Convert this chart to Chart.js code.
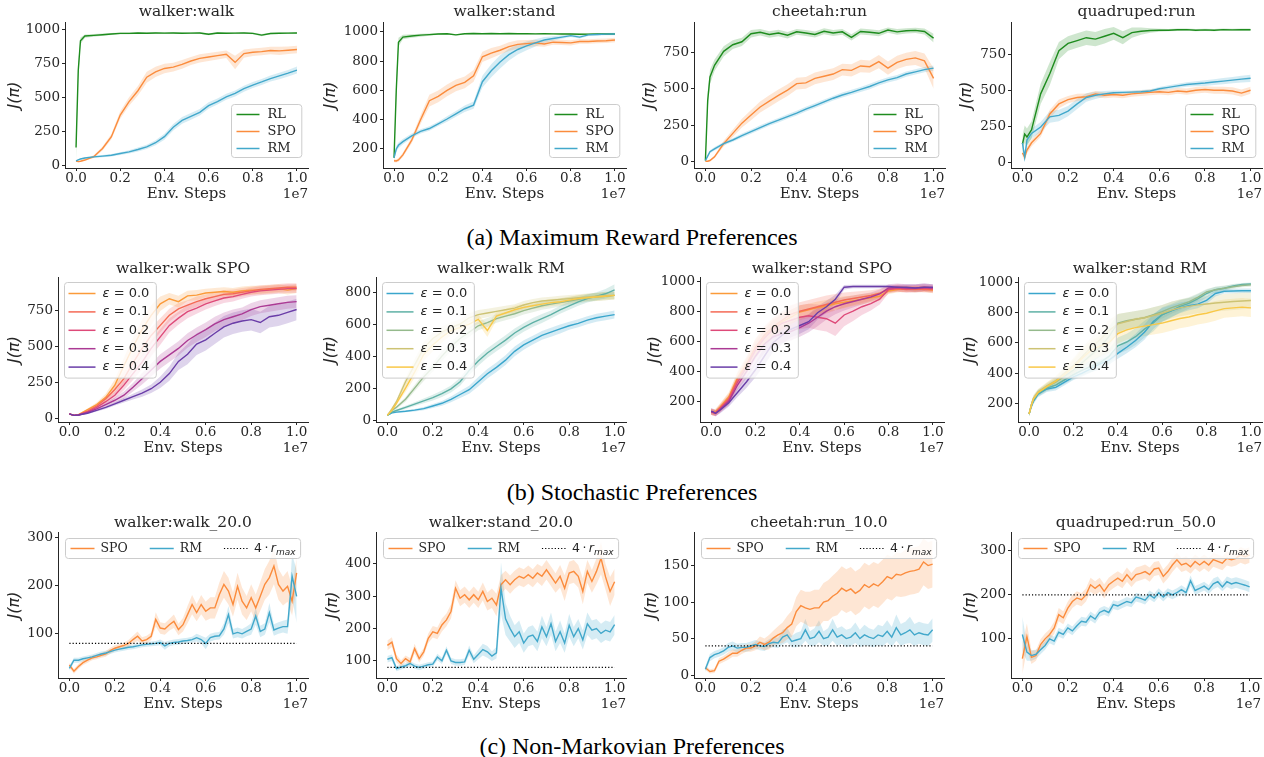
<!DOCTYPE html>
<html>
<head>
<meta charset="utf-8">
<script src="https://cdn.jsdelivr.net/npm/chart.js@4.4.1/dist/chart.umd.min.js"></script>
<style>
  body { margin: 0; background: #fff; width: 1264px; height: 757px; position: relative; overflow: hidden; }
  canvas { position: absolute; }
  .ttl { position: absolute; font: 15.5px 'DejaVu Serif'; color: #262626; line-height: 16px;
         transform: translate(-50%, -50%); white-space: nowrap; }
  .cap { position: absolute; left: 632px; font: 24px 'Liberation Serif'; color: #000; line-height: 24px;
         transform: translate(-50%, -50%); white-space: nowrap; }
</style>
</head>
<body>
<div class="cap" style="top:237px">(a) Maximum Reward Preferences</div>
<div class="cap" style="top:492px">(b) Stochastic Preferences</div>
<div class="cap" style="top:746px">(c) Non-Markovian Preferences</div>
<script>
// ── STEPS (units of 1e7) ─────────────────────────────────────
const STEPS_AB = [0, 0.01, 0.02, 0.04, 0.08, 0.12, 0.16, 0.2, 0.24, 0.28, 0.32, 0.36, 0.4, 0.44,
  0.48, 0.52, 0.56, 0.6, 0.64, 0.68, 0.72, 0.76, 0.8, 0.84, 0.88, 0.92, 0.96, 1.0];
const STEPS_C = [0, 0.02, 0.04, 0.06, 0.08, 0.1, 0.12, 0.14, 0.16, 0.18,
  0.2, 0.22, 0.24, 0.26, 0.28, 0.3, 0.32, 0.34, 0.36, 0.38,
  0.4, 0.42, 0.44, 0.46, 0.48, 0.5, 0.52, 0.54, 0.56, 0.58,
  0.6, 0.62, 0.64, 0.66, 0.68, 0.7, 0.72, 0.74, 0.76, 0.78,
  0.8, 0.82, 0.84, 0.86, 0.88, 0.9, 0.92, 0.94, 0.96, 0.98, 1.0];
const X_TICKS = [0, 0.2, 0.4, 0.6, 0.8, 1.0];

// ── (a) maximum reward ───────────────────────────────────────
const WALK_RL     = [130, 700, 920, 955,  960, 965, 970, 975,  975, 978, 976, 978,  977, 978, 976, 977,  978, 968, 977, 976,  977, 978, 975, 962,  974, 976, 977, 978];
const WALK_RL_SD  = [90, 60, 25, 12,  10, 8, 8, 7,  7, 6, 6, 6,  6, 6, 6, 6,  6, 8, 6, 6,  6, 6, 6, 8,  6, 6, 6, 6];
const WALK_SPO    = [30, 25, 28, 37,  62, 123, 210, 370,  470, 550, 650, 690,  715, 725, 745, 770,  790, 800, 810, 820,  760, 825, 835, 840,  848, 845, 850, 855];
const WALK_SPO_SD = [5, 5, 5, 6,  10, 15, 20, 28,  32, 35, 40, 38,  35, 33, 32, 30,  30, 30, 28, 28,  50, 30, 28, 28,  28, 30, 28, 28];
const WALK_RM     = [30, 38, 45, 52,  60, 66, 72, 85,  97, 115, 135, 165,  210, 280, 330, 360,  390, 440, 470, 505,  530, 565, 592, 615,  640, 660, 680, 703];
const WALK_RM_SD  = [5, 5, 6, 6,  8, 8, 9, 10,  12, 14, 16, 18,  22, 24, 25, 25,  24, 24, 22, 22,  22, 22, 22, 22,  22, 24, 24, 26];

const STAND_RL     = [140, 600, 930, 965,  972, 978, 982, 986,  988, 980, 988, 989,  988, 989, 988, 989,  988, 988, 987, 988,  987, 986, 986, 984,  985, 986, 986, 986];
const STAND_RL_SD  = [30, 80, 30, 15,  12, 10, 8, 6,  5, 5, 5, 5,  4, 4, 4, 4,  4, 4, 4, 4,  4, 4, 4, 5,  4, 4, 4, 4];
const STAND_SPO    = [120, 118, 125, 160,  260, 400, 530, 560,  600, 635, 655, 700,  830, 855, 875, 900,  915, 920, 925, 918,  930, 928, 925, 935,  935, 938, 940, 945];
const STAND_SPO_SD = [10, 10, 12, 15,  20, 30, 40, 40,  40, 40, 40, 40,  35, 35, 30, 30,  28, 25, 22, 20,  18, 18, 18, 16,  15, 15, 15, 15];
const STAND_RM     = [140, 200, 225, 250,  290, 320, 340, 372,  405, 440, 475, 500,  660, 735, 795, 845,  880, 905, 925, 945,  955, 965, 975, 965,  980, 983, 985, 986];
const STAND_RM_SD  = [15, 20, 20, 18,  15, 15, 15, 15,  18, 20, 22, 25,  40, 45, 45, 40,  35, 30, 25, 20,  15, 12, 10, 10,  8, 8, 8, 8];

const CHEETAH_RL     = [10, 420, 580, 660,  755, 800, 820, 875,  885, 870, 880, 865,  888, 880, 870, 892,  880, 888, 850, 890,  885, 878, 900, 888,  895, 898, 890, 845];
const CHEETAH_RL_SD  = [5, 60, 50, 40,  35, 30, 28, 25,  22, 22, 22, 22,  20, 20, 20, 20,  20, 20, 22, 20,  20, 20, 18, 20,  18, 18, 20, 30];
const CHEETAH_SPO    = [5, 5, 10, 35,  125, 195, 265, 320,  375, 415, 455, 490,  535, 540, 570, 585,  600, 630, 625, 655,  650, 685, 640, 680,  700, 710, 690, 570];
const CHEETAH_SPO_SD = [3, 3, 5, 10,  20, 25, 30, 35,  38, 40, 40, 40,  40, 40, 40, 40,  40, 40, 42, 42,  42, 45, 45, 45,  45, 48, 50, 70];
const CHEETAH_RM     = [10, 40, 70, 90,  125, 150, 180, 207,  235, 262, 285, 310,  333, 360, 385, 410,  435, 457, 475, 495,  515, 540, 560, 575,  600, 615, 630, 640];
const CHEETAH_RM_SD  = [5, 8, 10, 12,  12, 12, 14, 14,  15, 15, 15, 15,  16, 16, 16, 16,  16, 17, 17, 17,  18, 18, 18, 18,  18, 18, 18, 18];

const QUAD_RL     = [130, 200, 180, 230,  480, 620, 780, 830,  850, 870, 860, 880,  900, 870, 905, 915,  920, 922, 922, 925,  926, 922, 924, 922,  926, 924, 925, 925];
const QUAD_RL_SD  = [60, 60, 60, 60,  70, 80, 60, 50,  50, 50, 50, 50,  45, 45, 35, 25,  15, 10, 8, 8,  8, 8, 8, 8,  8, 8, 8, 8];
const QUAD_SPO    = [70, 40, 90, 140,  205, 340, 410, 440,  455, 460, 480, 470,  475, 470, 480, 485,  490, 495, 490, 500,  495, 505, 510, 505,  505, 500, 485, 505];
const QUAD_SPO_SD = [25, 25, 25, 25,  25, 30, 30, 25,  25, 22, 20, 20,  20, 20, 20, 20,  20, 20, 20, 20,  22, 22, 22, 25,  25, 25, 25, 25];
const QUAD_RM     = [140, 40, 160, 205,  250, 320, 330, 360,  410, 455, 470, 480,  488, 490, 492, 495,  500, 515, 525, 535,  545, 550, 555, 562,  568, 575, 582, 588];
const QUAD_RM_SD  = [35, 30, 35, 35,  35, 40, 40, 35,  35, 30, 25, 20,  15, 12, 12, 12,  12, 12, 14, 15,  16, 18, 20, 20,  22, 22, 24, 25];

// ── (b) stochastic, eps = 0.0 .. 0.4 ─────────────────────────
const WALK_SPO_E0 = [35, 30, 25, 30,  65, 100, 150, 235,  370, 500, 620, 720,  800, 835, 815, 855,  860, 875, 880, 885,  880, 890, 895, 895,  900, 905, 895, 905];
const WALK_SPO_E1 = [35, 30, 25, 28,  55, 90, 140, 205,  280, 390, 490, 580,  650, 720, 765, 790,  815, 835, 850, 865,  870, 880, 890, 900,  905, 910, 915, 915];
const WALK_SPO_E2 = [35, 30, 25, 28,  50, 80, 120, 165,  235, 315, 395, 490,  570, 650, 700, 745,  770, 800, 820, 840,  850, 865, 880, 890,  895, 900, 905, 905];
const WALK_SPO_E3 = [35, 30, 25, 28,  45, 70, 100, 130,  165, 220, 280, 340,  400, 445, 490, 545,  585, 620, 660, 690,  710, 730, 760, 780,  790, 800, 810, 815];
const WALK_SPO_E4 = [35, 30, 25, 28,  40, 60, 80, 105,  130, 155, 180, 210,  255, 315, 400, 450,  520, 550, 595, 640,  665, 680, 690, 670,  710, 720, 740, 760];
const WALK_SPO_E0_SD = [5, 5, 5, 5,  8, 15, 25, 40,  55, 65, 70, 70,  50, 40, 40, 35,  35, 30, 30, 30,  30, 30, 30, 30,  30, 30, 30, 30];
const WALK_SPO_E1_SD = [5, 5, 5, 5,  8, 12, 20, 30,  40, 50, 55, 55,  50, 45, 40, 35,  35, 30, 30, 30,  30, 30, 28, 28,  28, 28, 28, 28];
const WALK_SPO_E2_SD = [5, 5, 5, 5,  8, 12, 18, 25,  35, 45, 50, 55,  55, 50, 45, 45,  40, 40, 35, 35,  35, 30, 30, 30,  30, 30, 30, 30];
const WALK_SPO_E3_SD = [5, 5, 5, 5,  6, 10, 14, 20,  25, 30, 40, 45,  50, 50, 50, 50,  50, 50, 50, 50,  50, 45, 45, 45,  45, 45, 45, 45];
const WALK_SPO_E4_SD = [5, 5, 5, 5,  6, 8, 10, 12,  15, 20, 25, 30,  40, 50, 60, 70,  75, 75, 75, 75,  75, 75, 75, 75,  75, 75, 75, 75];

const WALK_RM_E0 = [30, 38, 45, 50,  55, 62, 72, 88,  105, 130, 160, 190,  240, 290, 330, 375,  430, 470, 500, 530,  550, 570, 590, 605,  625, 640, 650, 660];
const WALK_RM_E1 = [30, 40, 50, 60,  80, 100, 120, 140,  165, 195, 240, 310,  370, 420, 460, 500,  545, 580, 610, 635,  660, 690, 715, 740,  760, 775, 790, 815];
const WALK_RM_E2 = [30, 45, 60, 80,  130, 200, 270, 330,  400, 460, 510, 550,  590, 610, 635, 650,  665, 685, 700, 715,  725, 735, 745, 755,  765, 770, 775, 780];
const WALK_RM_E3 = [30, 50, 70, 115,  240, 345, 450, 510,  550, 580, 600, 640,  660, 670, 680, 690,  700, 720, 735, 745,  750, 755, 760, 765,  770, 775, 780, 780];
const WALK_RM_E4 = [30, 45, 60, 105,  200, 300, 410, 470,  520, 560, 580, 600,  630, 560, 650, 670,  690, 705, 715, 725,  735, 740, 750, 760,  765, 770, 775, 780];
const WALK_RM_E0_SD = [5, 5, 5, 5,  6, 8, 10, 12,  15, 18, 22, 25,  30, 30, 30, 30,  30, 30, 28, 28,  28, 28, 25, 25,  25, 25, 25, 25];
const WALK_RM_E1_SD = [5, 5, 6, 8,  10, 12, 15, 18,  20, 22, 25, 28,  30, 30, 30, 30,  28, 28, 28, 28,  25, 25, 25, 25,  25, 25, 30, 35];
const WALK_RM_E2_SD = [5, 6, 8, 10,  15, 20, 25, 28,  30, 30, 30, 30,  28, 28, 26, 26,  25, 25, 25, 25,  25, 25, 25, 25,  25, 25, 25, 25];
const WALK_RM_E3_SD = [5, 6, 8, 12,  25, 35, 40, 40,  35, 30, 30, 28,  28, 26, 25, 25,  25, 25, 22, 22,  22, 22, 22, 22,  22, 22, 22, 22];
const WALK_RM_E4_SD = [5, 6, 8, 12,  25, 35, 40, 40,  35, 30, 28, 28,  28, 40, 26, 25,  25, 22, 22, 22,  22, 22, 22, 22,  22, 25, 25, 25];

const STAND_SPO_E0 = [130, 125, 130, 160,  230, 360, 450, 560,  630, 690, 730, 760,  795, 810, 825, 835,  850, 860, 870, 880,  890, 900, 935, 945,  950, 945, 950, 940];
const STAND_SPO_E1 = [130, 125, 125, 155,  220, 350, 440, 560,  640, 700, 740, 780,  800, 815, 830, 845,  860, 875, 885, 895,  905, 920, 945, 950,  945, 950, 945, 945];
const STAND_SPO_E2 = [130, 125, 120, 150,  210, 330, 430, 540,  620, 680, 720, 740,  760, 770, 760, 750,  720, 775, 800, 830,  850, 880, 945, 955,  950, 950, 955, 950];
const STAND_SPO_E3 = [130, 125, 120, 145,  200, 310, 400, 500,  580, 630, 650, 665,  690, 720, 760, 800,  830, 850, 865, 880,  895, 915, 955, 960,  955, 955, 960, 955];
const STAND_SPO_E4 = [135, 130, 120, 140,  190, 260, 330, 410,  500, 590, 640, 680,  705, 730, 790, 830,  880, 960, 965, 965,  965, 965, 965, 960,  960, 955, 960, 960];
const STAND_SPO_E0_SD = [20, 20, 20, 25,  30, 40, 50, 55,  60, 60, 55, 50,  45, 40, 40, 40,  40, 40, 35, 35,  30, 30, 20, 20,  20, 20, 20, 20];
const STAND_SPO_E1_SD = [20, 20, 20, 25,  30, 40, 50, 55,  60, 60, 60, 60,  60, 60, 60, 60,  55, 50, 45, 40,  35, 30, 20, 20,  20, 20, 20, 20];
const STAND_SPO_E2_SD = [20, 20, 20, 25,  30, 40, 50, 55,  60, 60, 60, 70,  80, 80, 85, 85,  85, 75, 65, 55,  45, 35, 25, 25,  25, 25, 25, 25];
const STAND_SPO_E3_SD = [20, 20, 20, 22,  28, 35, 45, 55,  60, 60, 60, 60,  60, 60, 60, 55,  50, 45, 40, 35,  30, 30, 25, 25,  25, 25, 25, 25];
const STAND_SPO_E4_SD = [20, 20, 20, 22,  25, 30, 40, 50,  60, 60, 60, 55,  55, 50, 45, 40,  30, 15, 12, 12,  12, 12, 12, 15,  20, 25, 25, 20];

const STAND_RM_E0 = [130, 180, 215, 260,  295, 305, 340, 375,  400, 430, 460, 485,  530, 570, 615, 670,  740, 785, 810, 830,  845, 855, 880, 925,  940, 942, 943, 943];
const STAND_RM_E1 = [130, 185, 220, 265,  300, 320, 355, 390,  420, 445, 470, 510,  580, 605, 640, 690,  730, 785, 810, 840,  860, 890, 925, 950,  960, 975, 985, 988];
const STAND_RM_E2 = [130, 190, 230, 270,  310, 340, 380, 420,  470, 520, 570, 640,  730, 745, 755, 765,  785, 805, 830, 850,  870, 900, 935, 950,  960, 970, 978, 982];
const STAND_RM_E3 = [130, 190, 235, 275,  315, 350, 400, 450,  510, 570, 620, 680,  725, 740, 755, 765,  780, 795, 815, 830,  840, 850, 856, 862,  867, 872, 876, 879];
const STAND_RM_E4 = [130, 185, 230, 270,  310, 345, 390, 440,  500, 550, 580, 600,  660, 685, 700, 710,  720, 730, 745, 760,  770, 785, 795, 810,  825, 830, 835, 830];
const STAND_RM_E0_SD = [15, 20, 20, 20,  20, 20, 20, 20,  22, 25, 28, 30,  35, 40, 45, 50,  50, 45, 40, 35,  30, 28, 25, 20,  15, 15, 15, 15];
const STAND_RM_E1_SD = [15, 20, 20, 20,  20, 22, 25, 30,  35, 40, 45, 50,  55, 55, 55, 55,  55, 50, 45, 40,  35, 30, 25, 20,  15, 12, 10, 10];
const STAND_RM_E2_SD = [15, 20, 20, 20,  20, 25, 30, 40,  50, 55, 60, 65,  60, 55, 55, 55,  50, 45, 40, 35,  30, 25, 20, 20,  18, 15, 12, 12];
const STAND_RM_E3_SD = [15, 20, 20, 20,  25, 30, 40, 50,  60, 65, 70, 70,  65, 60, 55, 55,  55, 55, 55, 55,  55, 55, 55, 55,  55, 55, 55, 55];
const STAND_RM_E4_SD = [15, 20, 20, 20,  25, 30, 40, 50,  60, 65, 70, 70,  65, 65, 65, 65,  65, 65, 65, 65,  65, 65, 65, 65,  60, 60, 60, 60];

// ── (c) non-markovian ────────────────────────────────────────
const WALK20_SPO = [35, 22, 32, 40, 45, 50, 52, 55, 58, 65,  70, 73, 76, 80, 88, 95, 85, 88, 95, 130,
  112, 110, 119, 126, 109, 119, 140, 161, 144, 161,  147, 154, 154, 182, 203, 189, 161, 199, 168, 154,
  175, 154, 178, 203, 217, 241, 203, 189, 199, 168,  227];
const WALK20_SPO_SD = [5, 5, 5, 5, 5, 5, 5, 5, 6, 6,  6, 6, 6, 7, 8, 10, 8, 8, 8, 15,
  12, 12, 12, 14, 12, 14, 18, 20, 18, 20,  20, 22, 22, 25, 28, 28, 25, 28, 28, 25,
  28, 28, 30, 32, 35, 38, 32, 30, 32, 30,  30];
const WALK20_RM = [28, 45, 45, 48, 50, 52, 55, 58, 60, 63,  66, 68, 70, 72, 73, 75, 77, 78, 79, 80,
  82, 75, 80, 82, 83, 85, 86, 88, 92, 88,  80, 92, 95, 96, 110, 140, 100, 103, 100, 105,
  110, 137, 105, 110, 144, 108, 112, 115, 115, 220,  178];
const WALK20_RM_SD = [5, 5, 5, 5, 5, 5, 5, 5, 5, 5,  5, 5, 5, 5, 5, 5, 5, 5, 5, 5,
  6, 8, 6, 6, 6, 6, 6, 6, 8, 8,  12, 8, 8, 8, 12, 18, 10, 10, 10, 10,
  12, 18, 12, 12, 20, 12, 12, 12, 15, 45,  55];

const STAND20_SPO = [148, 158, 107, 92, 107, 97, 138, 107, 128, 170,  190, 185, 211, 227, 253, 325, 294, 305, 289, 305,
  289, 315, 284, 294, 273, 336, 351, 336, 351, 362,  356, 367, 356, 372, 362, 382, 362, 341, 362, 325,
  372, 377, 362, 315, 377, 346, 377, 418, 360, 315,  345];
const STAND20_SPO_SD = [15, 15, 12, 10, 10, 12, 15, 12, 12, 15,  18, 18, 20, 20, 22, 25, 25, 25, 25, 25,
  25, 28, 28, 30, 35, 30, 28, 28, 28, 28,  28, 28, 28, 28, 30, 30, 30, 30, 35, 40,
  35, 35, 35, 40, 35, 35, 40, 50, 40, 45,  40];
const STAND20_RM = [105, 110, 76, 81, 85, 92, 84, 80, 84, 88,  90, 112, 100, 133, 100, 95, 95, 97, 133, 105,
  120, 135, 128, 115, 125, 325, 230, 200, 175, 190,  155, 175, 180, 160, 205, 175, 215, 160, 190, 155,
  210, 175, 200, 165, 215, 195, 200, 185, 195, 190,  212];
const STAND20_RM_SD = [10, 10, 8, 8, 8, 8, 8, 8, 8, 8,  8, 10, 10, 12, 10, 10, 10, 10, 15, 12,
  15, 18, 18, 15, 18, 80, 50, 40, 35, 35,  30, 30, 30, 30, 35, 30, 35, 30, 35, 30,
  35, 30, 30, 30, 35, 30, 30, 30, 30, 30,  30];

const CHEETAH10_SPO = [10, 5, 6, 19, 22, 26, 30, 30, 34, 37,  37, 40, 45, 42, 45, 51, 55, 58, 65, 70,
  87, 95, 92, 90, 92, 92, 100, 102, 108, 112,  119, 115, 118, 112, 116, 124, 120, 125, 122, 128,
  135, 132, 138, 137, 140, 142, 143, 145, 155, 150,  152];
const CHEETAH10_SPO_SD = [3, 3, 3, 4, 4, 5, 5, 5, 5, 5,  5, 6, 8, 8, 10, 10, 12, 14, 16, 18,
  20, 22, 22, 24, 25, 25, 26, 28, 28, 30,  30, 30, 30, 30, 30, 30, 30, 30, 30, 30,
  30, 30, 30, 30, 32, 32, 32, 32, 32, 32,  32];
const CHEETAH10_RM = [8, 24, 28, 30, 33, 38, 40, 37, 38, 38,  40, 42, 40, 39, 43, 45, 44, 52, 55, 46,
  48, 50, 62, 50, 52, 60, 50, 52, 62, 52,  55, 50, 52, 58, 50, 55, 52, 50, 55, 53,
  60, 52, 65, 55, 58, 62, 55, 58, 56, 55,  62];
const CHEETAH10_RM_SD = [4, 5, 5, 5, 5, 6, 6, 6, 6, 6,  6, 6, 6, 6, 6, 7, 7, 10, 10, 8,
  10, 10, 15, 10, 12, 15, 10, 12, 15, 12,  12, 12, 12, 14, 12, 14, 12, 12, 14, 14,
  15, 14, 18, 15, 15, 18, 15, 15, 15, 15,  16];

const QUAD50_SPO = [55, 105, 58, 62, 87, 100, 110, 125, 155, 148,  170, 185, 193, 189, 200, 223, 215, 223, 208, 223,
  231, 238, 231, 246, 234, 246, 249, 253, 246, 259,  261, 242, 253, 268, 280, 268, 272, 264, 276, 268,
  276, 268, 280, 276, 272, 283, 280, 283, 291, 287,  291];
const QUAD50_SPO_SD = [35, 30, 15, 12, 12, 12, 12, 14, 15, 15,  15, 15, 15, 15, 15, 16, 16, 16, 16, 16,
  16, 16, 16, 16, 16, 16, 16, 16, 16, 16,  16, 16, 16, 16, 16, 16, 16, 16, 16, 16,
  16, 16, 16, 16, 16, 16, 16, 16, 18, 18,  18];
const QUAD50_RM = [110, 70, 62, 65, 75, 85, 100, 95, 115, 110,  125, 118, 130, 140, 138, 152, 145, 160, 165, 160,
  178, 175, 180, 185, 182, 195, 192, 188, 200, 193,  205, 195, 205, 200, 205, 212, 205, 232, 210, 215,
  220, 212, 225, 230, 218, 230, 225, 228, 225, 222,  218];
const QUAD50_RM_SD = [40, 20, 12, 10, 10, 10, 10, 10, 10, 10,  10, 10, 10, 10, 10, 10, 10, 10, 10, 10,
  10, 10, 10, 10, 10, 10, 10, 10, 10, 10,  10, 10, 10, 10, 10, 10, 10, 12, 10, 10,
  10, 10, 12, 12, 10, 12, 12, 12, 12, 12,  12];

// 4 * r_max reference levels for walker, stand, cheetah, quadruped
const R_MAX_LINE = [80, 80, 40, 200];
const EPS = ['0.0', '0.1', '0.2', '0.3', '0.4'];

// ── STYLE ────────────────────────────────────────────────────
const INK = '#262626';
const C_RL = '#1e8c1e', C_SPO = '#fb8c3d', C_RM = '#42a8cb';
const SPO_EPS_C = ['#fb9b3a', '#f56a55', '#de4a79', '#ab3a94', '#6a3da8'];
const RM_EPS_C = ['#3aa6cc', '#5fb1a6', '#95ba8c', '#cdc374', '#f9c847'];
const TICK_FONT = { family: 'DejaVu Serif', size: 13.5, lineHeight: 1 };
const LABEL_FONT = { family: 'DejaVu Serif', size: 15, lineHeight: 1.2 };

function rgba(hex, a) {
  const n = parseInt(hex.slice(1), 16);
  return `rgba(${n >> 16},${(n >> 8) & 255},${n & 255},${a})`;
}

const plain = t => [{ t }];
const epsParts = e => [{ t: 'ε', it: 1, math: 1 }, { t: ' = ' + e, math: 1 }];
const S = (parts, v, sd, c) => ({ parts, v, sd, c });

const PANELS = [
  { title: 'walker:walk', ty: 11, box: [65, 22, 308, 168], ylx: 15, y: [-22, 1059], yt: [0, 250, 500, 750, 1000], x: STEPS_AB, legend: 'br',
    series: [S(plain('RL'), WALK_RL, WALK_RL_SD, C_RL), S(plain('SPO'), WALK_SPO, WALK_SPO_SD, C_SPO), S(plain('RM'), WALK_RM, WALK_RM_SD, C_RM)] },
  { title: 'walker:stand', ty: 11, box: [383, 22, 626, 168], ylx: 331, y: [70, 1068], yt: [200, 400, 600, 800, 1000], x: STEPS_AB, legend: 'br',
    series: [S(plain('RL'), STAND_RL, STAND_RL_SD, C_RL), S(plain('SPO'), STAND_SPO, STAND_SPO_SD, C_SPO), S(plain('RM'), STAND_RM, STAND_RM_SD, C_RM)] },
  { title: 'cheetah:run', ty: 11, box: [694, 22, 945, 168], ylx: 650, y: [-41, 955], yt: [0, 250, 500, 750], x: STEPS_AB, legend: 'br',
    series: [S(plain('RL'), CHEETAH_RL, CHEETAH_RL_SD, C_RL), S(plain('SPO'), CHEETAH_SPO, CHEETAH_SPO_SD, C_SPO), S(plain('RM'), CHEETAH_RM, CHEETAH_RM_SD, C_RM)] },
  { title: 'quadruped:run', ty: 11, box: [1011, 22, 1262, 168], ylx: 967, y: [-35, 979], yt: [0, 250, 500, 750], x: STEPS_AB, legend: 'br',
    series: [S(plain('RL'), QUAD_RL, QUAD_RL_SD, C_RL), S(plain('SPO'), QUAD_SPO, QUAD_SPO_SD, C_SPO), S(plain('RM'), QUAD_RM, QUAD_RM_SD, C_RM)] },

  { title: 'walker:walk SPO', ty: 268, box: [58, 277, 308, 422], ylx: 15, y: [-21, 986], yt: [0, 250, 500, 750], x: STEPS_AB, legend: 'tl',
    series: [WALK_SPO_E0, WALK_SPO_E1, WALK_SPO_E2, WALK_SPO_E3, WALK_SPO_E4].map((v, i) =>
      S(epsParts(EPS[i]), v, [WALK_SPO_E0_SD, WALK_SPO_E1_SD, WALK_SPO_E2_SD, WALK_SPO_E3_SD, WALK_SPO_E4_SD][i], SPO_EPS_C[i])) },
  { title: 'walker:walk RM', ty: 268, box: [376, 277, 626, 422], ylx: 331, y: [-12, 895], yt: [0, 200, 400, 600, 800], x: STEPS_AB, legend: 'tl',
    series: [WALK_RM_E0, WALK_RM_E1, WALK_RM_E2, WALK_RM_E3, WALK_RM_E4].map((v, i) =>
      S(epsParts(EPS[i]), v, [WALK_RM_E0_SD, WALK_RM_E1_SD, WALK_RM_E2_SD, WALK_RM_E3_SD, WALK_RM_E4_SD][i], RM_EPS_C[i])) },
  { title: 'walker:stand SPO', ty: 268, box: [700, 277, 944, 422], ylx: 655, y: [62, 1028], yt: [200, 400, 600, 800, 1000], x: STEPS_AB, legend: 'tl',
    series: [STAND_SPO_E0, STAND_SPO_E1, STAND_SPO_E2, STAND_SPO_E3, STAND_SPO_E4].map((v, i) =>
      S(epsParts(EPS[i]), v, [STAND_SPO_E0_SD, STAND_SPO_E1_SD, STAND_SPO_E2_SD, STAND_SPO_E3_SD, STAND_SPO_E4_SD][i], SPO_EPS_C[i])) },
  { title: 'walker:stand RM', ty: 268, box: [1018, 277, 1262, 422], ylx: 971, y: [77, 1034], yt: [200, 400, 600, 800, 1000], x: STEPS_AB, legend: 'tl',
    series: [STAND_RM_E0, STAND_RM_E1, STAND_RM_E2, STAND_RM_E3, STAND_RM_E4].map((v, i) =>
      S(epsParts(EPS[i]), v, [STAND_RM_E0_SD, STAND_RM_E1_SD, STAND_RM_E2_SD, STAND_RM_E3_SD, STAND_RM_E4_SD][i], RM_EPS_C[i])) },

  { title: 'walker:walk_20.0', ty: 522, box: [58, 532, 308, 678], ylx: 15, y: [8, 312], yt: [100, 200, 300], x: STEPS_C, legend: 'tc', thr: R_MAX_LINE[0],
    series: [S(plain('SPO'), WALK20_SPO, WALK20_SPO_SD, C_SPO), S(plain('RM'), WALK20_RM, WALK20_RM_SD, C_RM)] },
  { title: 'walker:stand_20.0', ty: 522, box: [376, 532, 626, 678], ylx: 333, y: [47, 499], yt: [100, 200, 300, 400], x: STEPS_C, legend: 'tc', thr: R_MAX_LINE[1],
    series: [S(plain('SPO'), STAND20_SPO, STAND20_SPO_SD, C_SPO), S(plain('RM'), STAND20_RM, STAND20_RM_SD, C_RM)] },
  { title: 'cheetah:run_10.0', ty: 522, box: [694, 532, 944, 678], ylx: 652, y: [-4, 196], yt: [0, 50, 100, 150], x: STEPS_C, legend: 'tc', thr: R_MAX_LINE[2],
    series: [S(plain('SPO'), CHEETAH10_SPO, CHEETAH10_SPO_SD, C_SPO), S(plain('RM'), CHEETAH10_RM, CHEETAH10_RM_SD, C_RM)] },
  { title: 'quadruped:run_50.0', ty: 522, box: [1011, 532, 1261, 678], ylx: 971, y: [11, 343], yt: [100, 200, 300], x: STEPS_C, legend: 'tc', thr: R_MAX_LINE[3],
    series: [S(plain('SPO'), QUAD50_SPO, QUAD50_SPO_SD, C_SPO), S(plain('RM'), QUAD50_RM, QUAD50_RM_SD, C_RM)] },
];

// ── LEGEND / OFFSET TEXT ─────────────────────────────────────
const LEGEND_STYLE = {
  br: { size: 13, sample: 23, pad: 5, gap: 8, rowH: 17, first: 10, last: 9, right: 6 },
  tl: { size: 13, sample: 27, pad: 4, gap: 7, rowH: 18.4, first: 11, last: 11, right: 7 },
  tc: { size: 12.5, sample: 24, pad: 5, gap: 6, colGap: 22, h: 20 },
};

function partFont(p, size) {
  const fam = p.math ? '"DejaVu Sans"' : '"DejaVu Serif"';
  return (p.it ? 'italic ' : '') + (p.sub ? Math.round(size * 0.72) : size) + 'px ' + fam;
}
function partsWidth(ctx, parts, size) {
  let w = 0;
  parts.forEach(p => { ctx.font = partFont(p, size); w += ctx.measureText(p.t).width; });
  return w;
}
function drawParts(ctx, parts, x, y, size) {
  parts.forEach(p => {
    ctx.font = partFont(p, size);
    ctx.fillText(p.t, x, p.sub ? y + size * 0.3 : y);
    x += ctx.measureText(p.t).width;
  });
}
function roundBox(ctx, x, y, w, h, r) {
  ctx.beginPath();
  ctx.moveTo(x + r, y); ctx.lineTo(x + w - r, y); ctx.arcTo(x + w, y, x + w, y + r, r);
  ctx.lineTo(x + w, y + h - r); ctx.arcTo(x + w, y + h, x + w - r, y + h, r);
  ctx.lineTo(x + r, y + h); ctx.arcTo(x, y + h, x, y + h - r, r);
  ctx.lineTo(x, y + r); ctx.arcTo(x, y, x + r, y, r);
  ctx.closePath();
}

function drawLegend(ctx, a, where, items) {
  const st = LEGEND_STYLE[where];
  const tw = items.map(it => partsWidth(ctx, it.parts, st.size));
  let bx, by, bw, bh;
  if (where === 'tc') {
    bw = st.pad * 2 + items.reduce((s, it, i) => s + st.sample + st.gap + tw[i], 0) + st.colGap * (items.length - 1);
    bh = st.h;
    bx = (a.left + a.right) / 2 - bw / 2;
    by = a.top + 6;
  } else {
    bw = st.pad + st.sample + st.gap + Math.max(...tw) + st.right;
    bh = st.first + st.rowH * (items.length - 1) + st.last;
    if (where === 'br') { bx = a.right - 7 - bw; by = a.bottom - 11 - bh; }
    else { bx = a.left + 6; by = a.top + 5; }
  }
  bx = Math.round(bx) + 0.5; by = Math.round(by) + 0.5;
  roundBox(ctx, bx, by, bw, bh, 3);
  ctx.fillStyle = 'rgba(255,255,255,0.8)';
  ctx.fill();
  ctx.strokeStyle = '#cccccc';
  ctx.lineWidth = 1;
  ctx.stroke();

  ctx.textAlign = 'left';
  ctx.textBaseline = 'middle';
  let cx = bx + st.pad;
  items.forEach((it, i) => {
    let x, y;
    if (where === 'tc') { x = cx; y = by + bh / 2; cx += st.sample + st.gap + tw[i] + st.colGap; }
    else { x = bx + st.pad; y = by + st.first + i * st.rowH; }
    ctx.strokeStyle = it.c;
    ctx.lineWidth = it.dash ? 1.2 : 1.5;
    ctx.setLineDash(it.dash || []);
    ctx.beginPath();
    ctx.moveTo(x, y); ctx.lineTo(x + st.sample, y);
    ctx.stroke();
    ctx.setLineDash([]);
    ctx.fillStyle = INK;
    drawParts(ctx, it.parts, x + st.sample + st.gap, y, st.size);
  });
}

const panelDeco = {
  id: 'panelDeco',
  afterDatasetsDraw(chart, args, o) {
    const { ctx, chartArea: a } = chart;
    ctx.save();
    drawLegend(ctx, a, o.where, o.items);
    ctx.font = '13.5px "DejaVu Serif"';
    ctx.fillStyle = INK;
    ctx.textAlign = 'right';
    ctx.textBaseline = 'middle';
    ctx.fillText('1e7', a.right, a.bottom + 26);
    ctx.restore();
  }
};

// ── BUILD ────────────────────────────────────────────────────
function makePanel(p) {
  const [l, t, r, b] = p.box;
  const cl = Math.round(p.ylx - 12), ct = t - 6;
  const cw = r - cl + 18, ch = b - ct + 36;
  const cv = document.createElement('canvas');
  cv.width = cw; cv.height = ch;
  cv.style.left = cl + 'px'; cv.style.top = ct + 'px';
  document.body.appendChild(cv);

  const ttl = document.createElement('div');
  ttl.className = 'ttl';
  ttl.textContent = p.title;
  ttl.style.left = ((l + r) / 2) + 'px';
  ttl.style.top = p.ty + 'px';
  document.body.appendChild(ttl);

  const pts = v => v.map((y, k) => ({ x: p.x[k], y }));
  const datasets = [];
  p.series.forEach(s => {
    datasets.push({ data: pts(s.v.map((y, k) => y + s.sd[k])), borderWidth: 0, borderColor: 'transparent',
      pointRadius: 0, fill: false, order: 50 });
    datasets.push({ data: pts(s.v.map((y, k) => y - s.sd[k])), borderWidth: 0, borderColor: 'transparent',
      pointRadius: 0, fill: '-1', backgroundColor: rgba(s.c, 0.22), order: 50 });
  });
  p.series.forEach((s, i) => {
    datasets.push({ data: pts(s.v), borderColor: s.c, borderWidth: 1.4, pointRadius: 0, fill: false, order: -i });
  });
  const items = p.series.map(s => ({ parts: s.parts, c: s.c }));
  if (p.thr != null) {
    datasets.push({ data: [{ x: 0, y: p.thr }, { x: 1, y: p.thr }], borderColor: '#000', borderWidth: 1.2,
      borderDash: [1.2, 2], pointRadius: 0, fill: false, order: -10 });
    items.push({ parts: [{ t: '4\u2009·\u2009', math: 1 }, { t: 'r', it: 1, math: 1 }, { t: 'max', it: 1, math: 1, sub: 1 }], c: '#000', dash: [1.2, 2] });
  }

  const axisCommon = {
    grid: { display: true, drawOnChartArea: false, drawTicks: true, tickLength: 3, tickWidth: 1, tickColor: INK },
    border: { display: true, color: INK, width: 1 },
  };

  new Chart(cv, {
    type: 'line',
    data: { datasets },
    options: {
      responsive: false, animation: false, devicePixelRatio: 1, events: [],
      layout: { padding: { left: 0, top: 6, right: 18, bottom: 0 } },
      elements: { line: { tension: 0 } },
      plugins: { legend: { display: false }, tooltip: { enabled: false }, panelDeco: { where: p.legend, items } },
      scales: {
        x: {
          type: 'linear', min: -0.05, max: 1.05, ...axisCommon,
          afterBuildTicks: s => { s.ticks = X_TICKS.map(value => ({ value })); },
          afterFit: s => { s.height = 36; s.paddingLeft = 0; s.paddingRight = 0; },
          ticks: { font: TICK_FONT, color: INK, padding: 1, maxRotation: 0, autoSkip: false, callback: v => v.toFixed(1) },
          title: { display: true, text: 'Env. Steps', font: LABEL_FONT, color: INK, padding: { top: 0, bottom: 1.2 } },
        },
        y: {
          type: 'linear', min: p.y[0], max: p.y[1], ...axisCommon,
          afterBuildTicks: s => { s.ticks = p.yt.map(value => ({ value })); },
          afterFit: s => { s.width = l - cl; s.paddingTop = 0; s.paddingBottom = 0; },
          ticks: { font: TICK_FONT, color: INK, padding: 2, autoSkip: false, callback: v => String(v) },
          title: { display: true, text: 'J(π)', color: INK, padding: { top: 2.4, bottom: 0 },
            font: { family: 'DejaVu Sans', style: 'italic', size: 16, lineHeight: 1.2 } },
        },
      },
    },
    plugins: [panelDeco],
  });
}

PANELS.forEach(makePanel);
</script>
</body>
</html>
